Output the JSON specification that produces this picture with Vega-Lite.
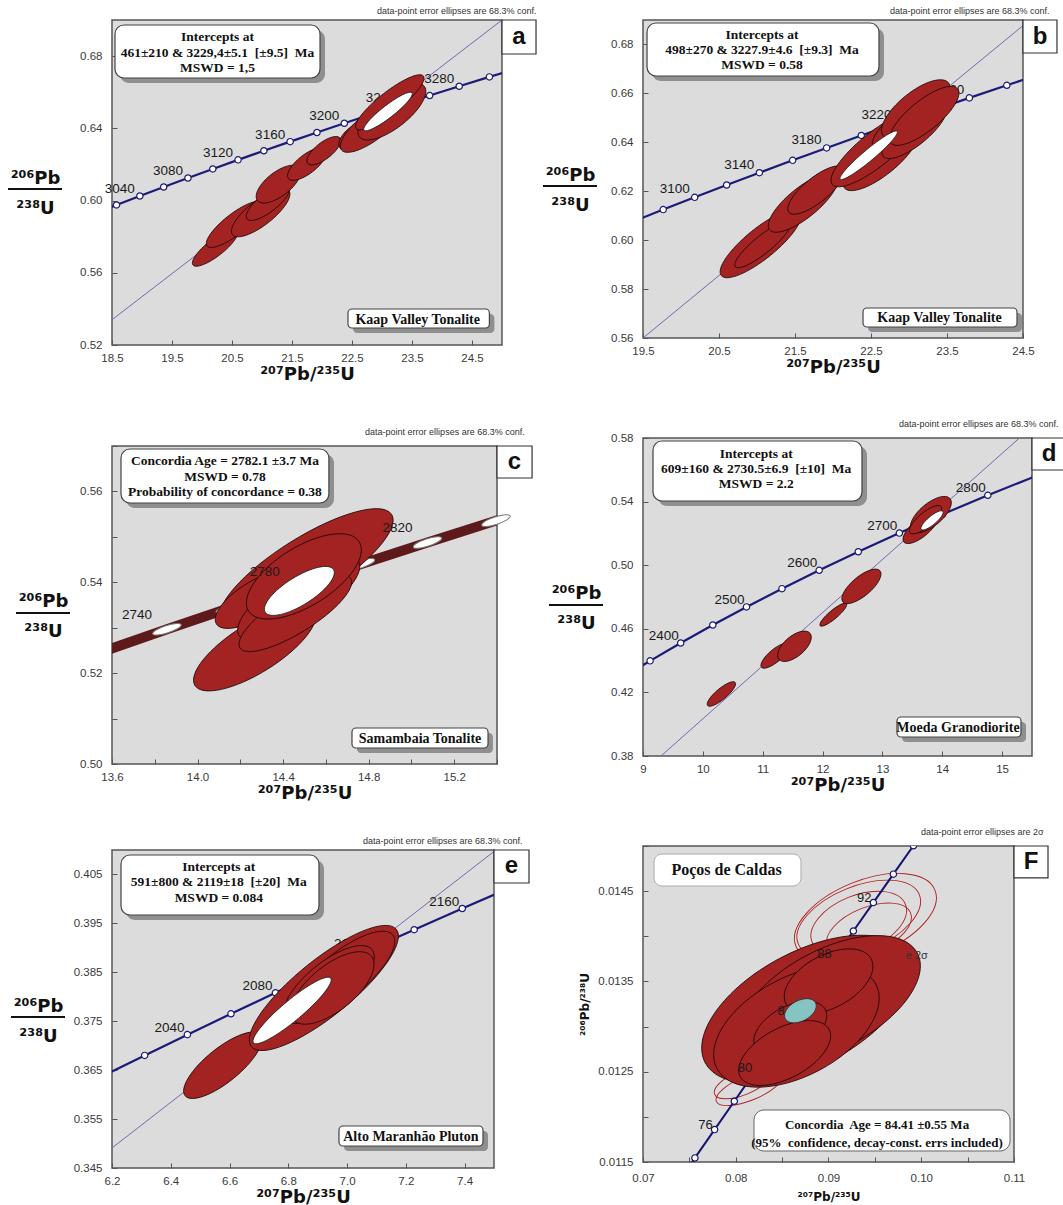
{
"$schema":"https://vega.github.io/schema/vega-lite/v6.json",
"background":"white",
"padding":{"left":6,"top":6,"right":0,"bottom":0},
"datasets":{
"concA":[{"age":3000,"x":18.193,"y":0.59261},{"age":3020,"x":18.575,"y":0.59756},{"age":3040,"x":18.964,"y":0.60252},{"age":3060,"x":19.361,"y":0.6075},{"age":3080,"x":19.766,"y":0.6125},{"age":3100,"x":20.18,"y":0.61751},{"age":3120,"x":20.601,"y":0.62254},{"age":3140,"x":21.031,"y":0.62758},{"age":3160,"x":21.469,"y":0.63263},{"age":3180,"x":21.916,"y":0.63771},{"age":3200,"x":22.372,"y":0.6428},{"age":3220,"x":22.836,"y":0.6479},{"age":3240,"x":23.311,"y":0.65302},{"age":3260,"x":23.794,"y":0.65816},{"age":3280,"x":24.287,"y":0.66331},{"age":3300,"x":24.79,"y":0.66848},{"age":3320,"x":25.303,"y":0.67366}],
"concC":[{"age":2720,"x":13.5675,"y":0.52492},{"age":2740,"x":13.857,"y":0.52966},{"age":2760,"x":14.153,"y":0.53441},{"age":2780,"x":14.454,"y":0.53918},{"age":2800,"x":14.762,"y":0.54396},{"age":2820,"x":15.075,"y":0.54876},{"age":2840,"x":15.395,"y":0.55357},{"age":2860,"x":15.721,"y":0.5584}],
"concD":[{"age":2300,"x":8.6326,"y":0.42873},{"age":2350,"x":9.1188,"y":0.43986},{"age":2400,"x":9.6296,"y":0.45107},{"age":2450,"x":10.1661,"y":0.46237},{"age":2500,"x":10.7297,"y":0.47376},{"age":2550,"x":11.3218,"y":0.48523},{"age":2600,"x":11.9437,"y":0.49679},{"age":2650,"x":12.5971,"y":0.50845},{"age":2700,"x":13.2834,"y":0.5202},{"age":2750,"x":14.0044,"y":0.53203},{"age":2800,"x":14.7616,"y":0.54396},{"age":2850,"x":15.5572,"y":0.55598}],
"concE":[{"age":1980,"x":6.0287,"y":0.35954},{"age":2000,"x":6.1685,"y":0.36377},{"age":2020,"x":6.3111,"y":0.36801},{"age":2040,"x":6.4566,"y":0.37226},{"age":2060,"x":6.6049,"y":0.37652},{"age":2080,"x":6.7562,"y":0.3808},{"age":2100,"x":6.9105,"y":0.38509},{"age":2120,"x":7.0678,"y":0.38939},{"age":2140,"x":7.2283,"y":0.39371},{"age":2160,"x":7.392,"y":0.39804},{"age":2180,"x":7.5589,"y":0.40238}],
"concF":[{"age":72,"x":0.0734826,"y":0.0112314},{"age":74,"x":0.0755991,"y":0.0115452},{"age":76,"x":0.0777196,"y":0.011859},{"age":78,"x":0.0798444,"y":0.012173},{"age":80,"x":0.0819733,"y":0.012487},{"age":82,"x":0.0841064,"y":0.0128012},{"age":84,"x":0.0862437,"y":0.0131154},{"age":86,"x":0.0883852,"y":0.0134298},{"age":88,"x":0.0905309,"y":0.0137442},{"age":90,"x":0.0926808,"y":0.0140588},{"age":92,"x":0.0948349,"y":0.0143733},{"age":94,"x":0.0969932,"y":0.0146881},{"age":96,"x":0.0991559,"y":0.0150029},{"age":98,"x":0.1013227,"y":0.0153179}]
},
"hconcat":[
{"vconcat":[
{"width":390,"height":325,
"title":{"text":"data-point error ellipses are 68.3% conf."},
"layer":[
{"data":{"values":[{"x":18.5,"y":0.534},{"x":25,"y":0.7}]},"mark":{"type":"line","color":"#7467b0","strokeWidth":1,"clip":true},
"encoding":{"x":{"field":"x","type":"quantitative","scale":{"domain":[18.5,25],"nice":false,"zero":false},"axis":{"values":[18.5,19,19.5,20,20.5,21,21.5,22,22.5,23,23.5,24,24.5,25],"format":".1f","labelExpr":"round(datum.value*2)%2==1 ? datum.label : ''","title":"²⁰⁷Pb/²³⁵U"}},
"y":{"field":"y","type":"quantitative","scale":{"domain":[0.52,0.7],"nice":false,"zero":false},"axis":{"values":[0.52,0.54,0.56,0.58,0.6,0.62,0.64,0.66,0.68,0.7],"format":".2f","labelExpr":"round(datum.value*50)%2==0 ? datum.label : ''","title":["²⁰⁶Pb","²³⁸U"],"titleAngle":0,"titleAlign":"center","titleBaseline":"alphabetic","titleX":-77,"titleY":163,"titleLineHeight":30}}}},
{"data":{"values":[{"bar":"fraction"}]},"mark":{"type":"rule","color":"#111","strokeWidth":2},"encoding":{"x":{"datum":16.767,"type":"quantitative"},"x2":{"datum":17.667},"y":{"datum":0.6064,"type":"quantitative"}}},
{"data":{"name":"concA"},"mark":{"type":"line","color":"#1b1b78","strokeWidth":2.2,"clip":true},"encoding":{"x":{"field":"x","type":"quantitative"},"y":{"field":"y","type":"quantitative"}}},
{"data":{"name":"concA"},"mark":{"type":"point","shape":"circle","filled":true,"fill":"white","stroke":"#1b1b78","strokeWidth":1.2,"size":40,"opacity":1,"clip":true},"encoding":{"x":{"field":"x","type":"quantitative"},"y":{"field":"y","type":"quantitative"}}},
{"data":{"name":"concA"},"transform":[{"filter":"datum.age%40==0 && datum.age>=3040 && datum.age<=3280"}],"mark":{"type":"text","dx":-20,"dy":-7,"fontSize":13.5,"font":"Liberation Sans","color":"#1a1a1a"},"encoding":{"x":{"field":"x","type":"quantitative"},"y":{"field":"y","type":"quantitative"},"text":{"field":"age","type":"quantitative","format":"d"}}},
{"data":{"values":[{"x":20.22,"y":0.5739,"sx":0.37,"r":0.3},{"x":20.545,"y":0.5868,"sx":0.46,"r":0.3},{"x":20.978,"y":0.5933,"sx":0.47,"r":0.35},{"x":21.1,"y":0.5989,"sx":0.35,"r":0.35},{"x":21.274,"y":0.6091,"sx":0.35,"r":0.45},{"x":21.75,"y":0.6202,"sx":0.31,"r":0.4},{"x":22.03,"y":0.6276,"sx":0.27,"r":0.4},{"x":22.56,"y":0.6359,"sx":0.26,"r":0.5},{"x":22.845,"y":0.6415,"sx":0.52,"r":0.35},{"x":23.165,"y":0.6493,"sx":0.54,"r":0.4},{"x":23.13,"y":0.6544,"sx":0.56,"r":0.25}]},
"mark":{"type":"point","filled":true,"fill":"#a32222","stroke":"#200808","strokeWidth":0.8,"opacity":1,"angle":-38},
"encoding":{"x":{"field":"x","type":"quantitative"},"y":{"field":"y","type":"quantitative"},"size":{"field":"sx","type":"quantitative","scale":{"type":"pow","exponent":2,"domain":[0,1],"range":[0,23190]},"legend":null},"shape":{"field":"r","type":"ordinal","scale":{"domain":[0.15,0.2,0.25,0.3,0.35,0.4,0.45,0.5,0.55,0.6]},"legend":null}}},
{"data":{"values":[{"x":23.1,"y":0.6493,"sx":0.4,"r":0.2}]},
"mark":{"type":"point","filled":true,"fill":"white","stroke":"#222","strokeWidth":0.8,"opacity":1,"angle":-38},
"encoding":{"x":{"field":"x","type":"quantitative"},"y":{"field":"y","type":"quantitative"},"size":{"field":"sx","type":"quantitative","scale":{"type":"pow","exponent":2,"domain":[0,1],"range":[0,23190]},"legend":null},"shape":{"field":"r","type":"ordinal","scale":{"domain":[0.15,0.2,0.25,0.3,0.35,0.4,0.45,0.5,0.55,0.6]},"legend":null}}},
{"data":{"values":[{"box":"stats"}]},"mark":{"type":"rect","fill":"#8f8f8f","cornerRadius":9},"encoding":{"x":{"datum":18.633,"type":"quantitative"},"x2":{"datum":22.05},"y":{"datum":0.69446,"type":"quantitative"},"y2":{"datum":0.66511}}},
{"data":{"values":[{"box":"stats"}]},"mark":{"type":"rect","fill":"white","stroke":"#444","strokeWidth":1.2,"cornerRadius":9},"encoding":{"x":{"datum":18.55,"type":"quantitative"},"x2":{"datum":21.967},"y":{"datum":0.69723,"type":"quantitative"},"y2":{"datum":0.66788}}},
{"data":{"values":[{"t":"Intercepts at\n461±210 & 3229,4±5.1\u00a0 [±9.5]\u00a0 Ma\nMSWD = 1,5"}]},"mark":{"type":"text","font":"Liberation Serif","fontWeight":"bold","fontSize":13.5,"lineHeight":15.3,"lineBreak":"\n","align":"center","baseline":"middle","color":"#111"},"encoding":{"x":{"datum":20.258,"type":"quantitative"},"y":{"datum":0.6904,"type":"quantitative"},"text":{"field":"t","type":"nominal"}}},
{"data":{"values":[{"box":"sample"}]},"mark":{"type":"rect","fill":"#8f8f8f","cornerRadius":4},"encoding":{"x":{"datum":22.517,"type":"quantitative"},"x2":{"datum":24.873},"y":{"datum":0.53717,"type":"quantitative"},"y2":{"datum":0.52665}}},
{"data":{"values":[{"box":"sample"}]},"mark":{"type":"rect","fill":"white","stroke":"#444","strokeWidth":1.2,"cornerRadius":4},"encoding":{"x":{"datum":22.433,"type":"quantitative"},"x2":{"datum":24.79},"y":{"datum":0.53994,"type":"quantitative"},"y2":{"datum":0.52942}}},
{"data":{"values":[{"t":"Kaap Valley Tonalite"}]},"mark":{"type":"text","font":"Liberation Serif","fontWeight":"bold","fontSize":14,"align":"center","baseline":"middle","color":"#111"},"encoding":{"x":{"datum":23.595,"type":"quantitative"},"y":{"datum":0.53402,"type":"quantitative"},"text":{"field":"t","type":"nominal"}}},
{"data":{"values":[{"p":"a"}]},"mark":{"type":"rect","fill":"white","stroke":"#333","strokeWidth":1.2},"encoding":{"x":{"datum":25,"type":"quantitative"},"x2":{"datum":25.567},"y":{"datum":0.7,"type":"quantitative"},"y2":{"datum":0.68117}}},
{"data":{"values":[{"p":"a"}]},"mark":{"type":"text","font":"Liberation Sans","fontWeight":"bold","fontSize":24,"align":"center","baseline":"middle","color":"#111"},"encoding":{"x":{"datum":25.283,"type":"quantitative"},"y":{"datum":0.6906,"type":"quantitative"},"text":{"field":"p","type":"nominal"}}}
]},
{"vconcat":[
{"width":385,"height":318,
"title":{"text":"data-point error ellipses are 68.3% conf.","dx":-8},
"layer":[
{"data":{"name":"concC"},"mark":{"type":"line","color":"#5e1a1a","strokeWidth":10,"strokeCap":"butt","clip":true},
"encoding":{"x":{"field":"x","type":"quantitative","scale":{"domain":[13.6,15.4],"nice":false,"zero":false},"axis":{"values":[13.6,13.8,14,14.2,14.4,14.6,14.8,15,15.2,15.4],"format":".1f","labelExpr":"round(datum.value*5)%2==0 ? datum.label : ''","title":"²⁰⁷Pb/²³⁵U"}},
"y":{"field":"y","type":"quantitative","scale":{"domain":[0.5,0.57],"nice":false,"zero":false},"axis":{"values":[0.5,0.51,0.52,0.53,0.54,0.55,0.56,0.57],"format":".2f","labelExpr":"round(datum.value*100)%2==0 ? datum.label : ''","title":["²⁰⁶Pb","²³⁸U"],"titleAngle":0,"titleAlign":"center","titleBaseline":"alphabetic","titleX":-69,"titleY":160,"titleLineHeight":30}}}},
{"data":{"values":[{"bar":"fraction"}]},"mark":{"type":"rule","color":"#111","strokeWidth":2},"encoding":{"x":{"datum":13.1512,"type":"quantitative"},"x2":{"datum":13.4036},"y":{"datum":0.53324,"type":"quantitative"}}},
{"data":{"name":"concC"},"transform":[{"filter":"datum.age>=2740 && datum.age<=2840"}],"mark":{"type":"point","shape":"M-1,0C-1,-0.1381,-0.5523,-0.25,0,-0.25C0.5523,-0.25,1,-0.1381,1,0C1,0.1381,0.5523,0.25,0,0.25C-0.5523,0.25,-1,0.1381,-1,0Z","filled":true,"fill":"white","stroke":"#777","strokeWidth":1,"size":900,"angle":-18,"opacity":1},"encoding":{"x":{"field":"x","type":"quantitative"},"y":{"field":"y","type":"quantitative"}}},
{"data":{"values":[{"x":14.509,"y":0.5432,"sx":0.394,"r":0.3},{"x":14.267,"y":0.5255,"sx":0.276,"r":0.35},{"x":14.267,"y":0.5361,"sx":0.177,"r":0.4},{"x":14.473,"y":0.5365,"sx":0.276,"r":0.35},{"x":14.457,"y":0.5332,"sx":0.256,"r":0.3},{"x":14.497,"y":0.5413,"sx":0.256,"r":0.45}]},
"mark":{"type":"point","filled":true,"fill":"#a32222","stroke":"#200808","strokeWidth":0.8,"opacity":1,"angle":-32},
"encoding":{"x":{"field":"x","type":"quantitative"},"y":{"field":"y","type":"quantitative"},"size":{"field":"sx","type":"quantitative","scale":{"type":"pow","exponent":2,"domain":[0,1],"range":[0,260200]},"legend":null},"shape":{"field":"r","type":"ordinal","scale":{"domain":[0.15,0.2,0.25,0.3,0.35,0.4,0.45,0.5,0.55,0.6]},"legend":null}}},
{"data":{"values":[{"x":14.476,"y":0.5381,"sx":0.158,"r":0.35}]},
"mark":{"type":"point","filled":true,"fill":"white","stroke":"#222","strokeWidth":0.8,"opacity":1,"angle":-32},
"encoding":{"x":{"field":"x","type":"quantitative"},"y":{"field":"y","type":"quantitative"},"size":{"field":"sx","type":"quantitative","scale":{"type":"pow","exponent":2,"domain":[0,1],"range":[0,260200]},"legend":null},"shape":{"field":"r","type":"ordinal","scale":{"domain":[0.15,0.2,0.25,0.3,0.35,0.4,0.45,0.5,0.55,0.6]},"legend":null}}},
{"data":{"name":"concC"},"transform":[{"filter":"datum.age%40==20 && datum.age>=2740 && datum.age<=2820"}],"mark":{"type":"text","dx":-30,"dy":-14,"fontSize":13.5,"font":"Liberation Sans","color":"#1a1a1a"},"encoding":{"x":{"field":"x","type":"quantitative"},"y":{"field":"y","type":"quantitative"},"text":{"field":"age","type":"quantitative","format":"d"}}},
{"data":{"values":[{"box":"stats"}]},"mark":{"type":"rect","fill":"#8f8f8f","cornerRadius":9},"encoding":{"x":{"datum":13.665,"type":"quantitative"},"x2":{"datum":14.638},"y":{"datum":0.56824,"type":"quantitative"},"y2":{"datum":0.55635}}},
{"data":{"values":[{"box":"stats"}]},"mark":{"type":"rect","fill":"white","stroke":"#444","strokeWidth":1.2,"cornerRadius":9},"encoding":{"x":{"datum":13.642,"type":"quantitative"},"x2":{"datum":14.614},"y":{"datum":0.56934,"type":"quantitative"},"y2":{"datum":0.55745}}},
{"data":{"values":[{"t":"Concordia Age = 2782.1 ±3.7 Ma\nMSWD = 0.78\nProbability of concordance = 0.38"}]},"mark":{"type":"text","font":"Liberation Serif","fontWeight":"bold","fontSize":13.5,"lineHeight":15.3,"lineBreak":"\n","align":"center","baseline":"middle","color":"#111"},"encoding":{"x":{"datum":14.128,"type":"quantitative"},"y":{"datum":0.56663,"type":"quantitative"},"text":{"field":"t","type":"nominal"}}},
{"data":{"values":[{"box":"sample"}]},"mark":{"type":"rect","fill":"#8f8f8f","cornerRadius":4},"encoding":{"x":{"datum":14.745,"type":"quantitative"},"x2":{"datum":15.381},"y":{"datum":0.50682,"type":"quantitative"},"y2":{"datum":0.50242}}},
{"data":{"values":[{"box":"sample"}]},"mark":{"type":"rect","fill":"white","stroke":"#444","strokeWidth":1.2,"cornerRadius":4},"encoding":{"x":{"datum":14.722,"type":"quantitative"},"x2":{"datum":15.358},"y":{"datum":0.50793,"type":"quantitative"},"y2":{"datum":0.50352}}},
{"data":{"values":[{"t":"Samambaia Tonalite"}]},"mark":{"type":"text","font":"Liberation Serif","fontWeight":"bold","fontSize":14,"align":"center","baseline":"middle","color":"#111"},"encoding":{"x":{"datum":15.04,"type":"quantitative"},"y":{"datum":0.5055,"type":"quantitative"},"text":{"field":"t","type":"nominal"}}},
{"data":{"values":[{"p":"c"}]},"mark":{"type":"rect","fill":"white","stroke":"#333","strokeWidth":1.2},"encoding":{"x":{"datum":15.4,"type":"quantitative"},"x2":{"datum":15.564},"y":{"datum":0.57,"type":"quantitative"},"y2":{"datum":0.56296}}},
{"data":{"values":[{"p":"c"}]},"mark":{"type":"text","font":"Liberation Sans","fontWeight":"bold","fontSize":24,"align":"center","baseline":"middle","color":"#111"},"encoding":{"x":{"datum":15.482,"type":"quantitative"},"y":{"datum":0.56648,"type":"quantitative"},"text":{"field":"p","type":"nominal"}}}
]},
{"width":382,"height":318,
"title":{"text":"data-point error ellipses are 68.3% conf.","dx":-7},
"layer":[
{"data":{"values":[{"x":6.2,"y":0.3491},{"x":7.5,"y":0.4097}]},"mark":{"type":"line","color":"#7467b0","strokeWidth":1,"clip":true},
"encoding":{"x":{"field":"x","type":"quantitative","scale":{"domain":[6.2,7.5],"nice":false,"zero":false},"axis":{"values":[6.2,6.3,6.4,6.5,6.6,6.7,6.8,6.9,7,7.1,7.2,7.3,7.4,7.5],"format":".1f","labelExpr":"round(datum.value*10)%2==0 ? datum.label : ''","title":"²⁰⁷Pb/²³⁵U"}},
"y":{"field":"y","type":"quantitative","scale":{"domain":[0.345,0.41],"nice":false,"zero":false},"axis":{"values":[0.345,0.35,0.355,0.36,0.365,0.37,0.375,0.38,0.385,0.39,0.395,0.4,0.405,0.41],"format":".3f","labelExpr":"round(datum.value*200)%2==1 ? datum.label : ''","title":["²⁰⁶Pb","²³⁸U"],"titleAngle":0,"titleAlign":"center","titleBaseline":"alphabetic","titleX":-74,"titleY":161,"titleLineHeight":30}}}},
{"data":{"values":[{"bar":"fraction"}]},"mark":{"type":"rule","color":"#111","strokeWidth":2},"encoding":{"x":{"datum":5.8563,"type":"quantitative"},"x2":{"datum":6.0401},"y":{"datum":0.37587,"type":"quantitative"}}},
{"data":{"name":"concE"},"mark":{"type":"line","color":"#1b1b78","strokeWidth":2.2,"clip":true},"encoding":{"x":{"field":"x","type":"quantitative"},"y":{"field":"y","type":"quantitative"}}},
{"data":{"name":"concE"},"mark":{"type":"point","shape":"circle","filled":true,"fill":"white","stroke":"#1b1b78","strokeWidth":1.2,"size":40,"opacity":1,"clip":true},"encoding":{"x":{"field":"x","type":"quantitative"},"y":{"field":"y","type":"quantitative"}}},
{"data":{"name":"concE"},"transform":[{"filter":"datum.age%40==0 && datum.age>=2040 && datum.age<=2160"}],"mark":{"type":"text","dx":-18,"dy":-7,"fontSize":13.5,"font":"Liberation Sans","color":"#1a1a1a"},"encoding":{"x":{"field":"x","type":"quantitative"},"y":{"field":"y","type":"quantitative"},"text":{"field":"age","type":"quantitative","format":"d"}}},
{"data":{"values":[{"x":6.577,"y":0.366,"sx":0.13,"r":0.35},{"x":6.921,"y":0.3818,"sx":0.25,"r":0.3},{"x":6.982,"y":0.3842,"sx":0.176,"r":0.35},{"x":6.938,"y":0.3825,"sx":0.149,"r":0.4},{"x":6.95,"y":0.3818,"sx":0.135,"r":0.45}]},
"mark":{"type":"point","filled":true,"fill":"#a32222","stroke":"#200808","strokeWidth":0.8,"opacity":1,"angle":-39},
"encoding":{"x":{"field":"x","type":"quantitative"},"y":{"field":"y","type":"quantitative"},"size":{"field":"sx","type":"quantitative","scale":{"type":"pow","exponent":2,"domain":[0,1],"range":[0,556230]},"legend":null},"shape":{"field":"r","type":"ordinal","scale":{"domain":[0.15,0.2,0.25,0.3,0.35,0.4,0.45,0.5,0.55,0.6]},"legend":null}}},
{"data":{"values":[{"x":6.813,"y":0.3772,"sx":0.135,"r":0.2}]},
"mark":{"type":"point","filled":true,"fill":"white","stroke":"#222","strokeWidth":0.8,"opacity":1,"angle":-40},
"encoding":{"x":{"field":"x","type":"quantitative"},"y":{"field":"y","type":"quantitative"},"size":{"field":"sx","type":"quantitative","scale":{"type":"pow","exponent":2,"domain":[0,1],"range":[0,556230]},"legend":null},"shape":{"field":"r","type":"ordinal","scale":{"domain":[0.15,0.2,0.25,0.3,0.35,0.4,0.45,0.5,0.55,0.6]},"legend":null}}},
{"data":{"values":[{"box":"stats"}]},"mark":{"type":"rect","fill":"#8f8f8f","cornerRadius":9},"encoding":{"x":{"datum":6.2476,"type":"quantitative"},"x2":{"datum":6.9215},"y":{"datum":0.40796,"type":"quantitative"},"y2":{"datum":0.39569}}},
{"data":{"values":[{"box":"stats"}]},"mark":{"type":"rect","fill":"white","stroke":"#444","strokeWidth":1.2,"cornerRadius":9},"encoding":{"x":{"datum":6.2306,"type":"quantitative"},"x2":{"datum":6.9044},"y":{"datum":0.40898,"type":"quantitative"},"y2":{"datum":0.39671}}},
{"data":{"values":[{"t":"Intercepts at\n591±800 & 2119±18\u00a0 [±20]\u00a0 Ma\nMSWD = 0.084"}]},"mark":{"type":"text","font":"Liberation Serif","fontWeight":"bold","fontSize":13.5,"lineHeight":15.5,"lineBreak":"\n","align":"center","baseline":"middle","color":"#111"},"encoding":{"x":{"datum":6.5634,"type":"quantitative"},"y":{"datum":0.40653,"type":"quantitative"},"text":{"field":"t","type":"nominal"}}},
{"data":{"values":[{"box":"sample"}]},"mark":{"type":"rect","fill":"#8f8f8f","cornerRadius":4},"encoding":{"x":{"datum":6.9895,"type":"quantitative"},"x2":{"datum":7.4796},"y":{"datum":0.35256,"type":"quantitative"},"y2":{"datum":0.34847}}},
{"data":{"values":[{"box":"sample"}]},"mark":{"type":"rect","fill":"white","stroke":"#444","strokeWidth":1.2,"cornerRadius":4},"encoding":{"x":{"datum":6.9725,"type":"quantitative"},"x2":{"datum":7.4625},"y":{"datum":0.35358,"type":"quantitative"},"y2":{"datum":0.3495}}},
{"data":{"values":[{"t":"Alto Maranhão Pluton"}]},"mark":{"type":"text","font":"Liberation Serif","fontWeight":"bold","fontSize":14,"align":"center","baseline":"middle","color":"#111"},"encoding":{"x":{"datum":7.2172,"type":"quantitative"},"y":{"datum":0.35134,"type":"quantitative"},"text":{"field":"t","type":"nominal"}}},
{"data":{"values":[{"p":"e"}]},"mark":{"type":"rect","fill":"white","stroke":"#333","strokeWidth":1.2},"encoding":{"x":{"datum":7.5,"type":"quantitative"},"x2":{"datum":7.6191},"y":{"datum":0.41,"type":"quantitative"},"y2":{"datum":0.40325}}},
{"data":{"values":[{"p":"e"}]},"mark":{"type":"text","font":"Liberation Sans","fontWeight":"bold","fontSize":24,"align":"center","baseline":"middle","color":"#111"},"encoding":{"x":{"datum":7.5595,"type":"quantitative"},"y":{"datum":0.40663,"type":"quantitative"},"text":{"field":"p","type":"nominal"}}}
]}
],"spacing":86,"bounds":"flush","resolve":{"scale":{"size":"independent","shape":"independent"}}}
],"spacing":101,"bounds":"flush","resolve":{"scale":{"size":"independent","shape":"independent"}}},
{"vconcat":[
{"width":380,"height":318,
"title":{"text":"data-point error ellipses are 68.3% conf.","dx":-8},
"layer":[
{"data":{"values":[{"x":19.5,"y":0.56},{"x":24.5,"y":0.6877}]},"mark":{"type":"line","color":"#7467b0","strokeWidth":1,"clip":true},
"encoding":{"x":{"field":"x","type":"quantitative","scale":{"domain":[19.5,24.5],"nice":false,"zero":false},"axis":{"values":[19.5,20,20.5,21,21.5,22,22.5,23,23.5,24,24.5],"format":".1f","labelExpr":"round(datum.value*2)%2==1 ? datum.label : ''","title":"²⁰⁷Pb/²³⁵U"}},
"y":{"field":"y","type":"quantitative","scale":{"domain":[0.56,0.69],"nice":false,"zero":false},"axis":{"values":[0.56,0.57,0.58,0.59,0.6,0.61,0.62,0.63,0.64,0.65,0.66,0.67,0.68,0.69],"format":".2f","labelExpr":"round(datum.value*100)%2==0 ? datum.label : ''","title":["²⁰⁶Pb","²³⁸U"],"titleAngle":0,"titleAlign":"center","titleBaseline":"alphabetic","titleX":-73,"titleY":160,"titleLineHeight":30}}}},
{"data":{"values":[{"bar":"fraction"}]},"mark":{"type":"rule","color":"#111","strokeWidth":2},"encoding":{"x":{"datum":18.184,"type":"quantitative"},"x2":{"datum":18.895},"y":{"datum":0.62214,"type":"quantitative"}}},
{"data":{"name":"concA"},"mark":{"type":"line","color":"#1b1b78","strokeWidth":2.2,"clip":true},"encoding":{"x":{"field":"x","type":"quantitative"},"y":{"field":"y","type":"quantitative"}}},
{"data":{"name":"concA"},"mark":{"type":"point","shape":"circle","filled":true,"fill":"white","stroke":"#1b1b78","strokeWidth":1.2,"size":40,"opacity":1,"clip":true},"encoding":{"x":{"field":"x","type":"quantitative"},"y":{"field":"y","type":"quantitative"}}},
{"data":{"name":"concA"},"transform":[{"filter":"datum.age%40==20 && datum.age>=3100 && datum.age<=3260"}],"mark":{"type":"text","dx":-20,"dy":-8,"fontSize":13.5,"font":"Liberation Sans","color":"#1a1a1a"},"encoding":{"x":{"field":"x","type":"quantitative"},"y":{"field":"y","type":"quantitative"},"text":{"field":"age","type":"quantitative","format":"d"}}},
{"data":{"values":[{"x":21.05,"y":0.5986,"sx":0.52,"r":0.3},{"x":21.075,"y":0.5982,"sx":0.36,"r":0.25},{"x":21.606,"y":0.6153,"sx":0.44,"r":0.35},{"x":21.78,"y":0.6205,"sx":0.36,"r":0.35},{"x":22.63,"y":0.6334,"sx":0.48,"r":0.35},{"x":22.56,"y":0.6371,"sx":0.57,"r":0.3},{"x":22.94,"y":0.6487,"sx":0.41,"r":0.3},{"x":23.07,"y":0.6446,"sx":0.41,"r":0.35},{"x":23.09,"y":0.6535,"sx":0.43,"r":0.4},{"x":23.2,"y":0.6508,"sx":0.44,"r":0.35}]},
"mark":{"type":"point","filled":true,"fill":"#a32222","stroke":"#200808","strokeWidth":0.8,"opacity":1,"angle":-39},
"encoding":{"x":{"field":"x","type":"quantitative"},"y":{"field":"y","type":"quantitative"},"size":{"field":"sx","type":"quantitative","scale":{"type":"pow","exponent":2,"domain":[0,1],"range":[0,38265]},"legend":null},"shape":{"field":"r","type":"ordinal","scale":{"domain":[0.15,0.2,0.25,0.3,0.35,0.4,0.45,0.5,0.55,0.6]},"legend":null}}},
{"data":{"values":[{"x":22.47,"y":0.6347,"sx":0.38,"r":0.15}]},
"mark":{"type":"point","filled":true,"fill":"white","stroke":"#222","strokeWidth":0.8,"opacity":1,"angle":-40},
"encoding":{"x":{"field":"x","type":"quantitative"},"y":{"field":"y","type":"quantitative"},"size":{"field":"sx","type":"quantitative","scale":{"type":"pow","exponent":2,"domain":[0,1],"range":[0,38265]},"legend":null},"shape":{"field":"r","type":"ordinal","scale":{"domain":[0.15,0.2,0.25,0.3,0.35,0.4,0.45,0.5,0.55,0.6]},"legend":null}}},
{"data":{"values":[{"box":"stats"}]},"mark":{"type":"rect","fill":"#8f8f8f","cornerRadius":9},"encoding":{"x":{"datum":19.618,"type":"quantitative"},"x2":{"datum":22.671},"y":{"datum":0.68673,"type":"quantitative"},"y2":{"datum":0.66506}}},
{"data":{"values":[{"box":"stats"}]},"mark":{"type":"rect","fill":"white","stroke":"#444","strokeWidth":1.2,"cornerRadius":9},"encoding":{"x":{"datum":19.553,"type":"quantitative"},"x2":{"datum":22.605},"y":{"datum":0.68877,"type":"quantitative"},"y2":{"datum":0.66711}}},
{"data":{"values":[{"t":"Intercepts at\n498±270 & 3227.9±4.6\u00a0 [±9.3]\u00a0 Ma\nMSWD = 0.58"}]},"mark":{"type":"text","font":"Liberation Serif","fontWeight":"bold","fontSize":13.5,"lineHeight":15,"lineBreak":"\n","align":"center","baseline":"middle","color":"#111"},"encoding":{"x":{"datum":21.066,"type":"quantitative"},"y":{"datum":0.68375,"type":"quantitative"},"text":{"field":"t","type":"nominal"}}},
{"data":{"values":[{"box":"sample"}]},"mark":{"type":"rect","fill":"#8f8f8f","cornerRadius":4},"encoding":{"x":{"datum":22.461,"type":"quantitative"},"x2":{"datum":24.487},"y":{"datum":0.57022,"type":"quantitative"},"y2":{"datum":0.56245}}},
{"data":{"values":[{"box":"sample"}]},"mark":{"type":"rect","fill":"white","stroke":"#444","strokeWidth":1.2,"cornerRadius":4},"encoding":{"x":{"datum":22.395,"type":"quantitative"},"x2":{"datum":24.421},"y":{"datum":0.57227,"type":"quantitative"},"y2":{"datum":0.5645}}},
{"data":{"values":[{"t":"Kaap Valley Tonalite"}]},"mark":{"type":"text","font":"Liberation Serif","fontWeight":"bold","fontSize":14,"align":"center","baseline":"middle","color":"#111"},"encoding":{"x":{"datum":23.401,"type":"quantitative"},"y":{"datum":0.56818,"type":"quantitative"},"text":{"field":"t","type":"nominal"}}},
{"data":{"values":[{"p":"b"}]},"mark":{"type":"rect","fill":"white","stroke":"#333","strokeWidth":1.2},"encoding":{"x":{"datum":24.5,"type":"quantitative"},"x2":{"datum":24.947},"y":{"datum":0.69,"type":"quantitative"},"y2":{"datum":0.67651}}},
{"data":{"values":[{"p":"b"}]},"mark":{"type":"text","font":"Liberation Sans","fontWeight":"bold","fontSize":24,"align":"center","baseline":"middle","color":"#111"},"encoding":{"x":{"datum":24.724,"type":"quantitative"},"y":{"datum":0.68325,"type":"quantitative"},"text":{"field":"p","type":"nominal"}}}
]},
{"vconcat":[
{"width":389,"height":318,
"title":{"text":"data-point error ellipses are 68.3% conf.","dx":-8},
"layer":[
{"data":{"values":[{"x":9.3,"y":0.38},{"x":15.29,"y":0.58}]},"mark":{"type":"line","color":"#7467b0","strokeWidth":1,"clip":true},
"encoding":{"x":{"field":"x","type":"quantitative","scale":{"domain":[9,15.5],"nice":false,"zero":false},"axis":{"values":[9,9.5,10,10.5,11,11.5,12,12.5,13,13.5,14,14.5,15,15.5],"labelExpr":"round(datum.value*2)%2==0 ? format(datum.value,'d') : ''","title":"²⁰⁷Pb/²³⁵U"}},
"y":{"field":"y","type":"quantitative","scale":{"domain":[0.38,0.58],"nice":false,"zero":false},"axis":{"values":[0.38,0.4,0.42,0.44,0.46,0.48,0.5,0.52,0.54,0.56,0.58],"format":".2f","labelExpr":"round(datum.value*50)%2==1 ? datum.label : ''","title":["²⁰⁶Pb","²³⁸U"],"titleAngle":0,"titleAlign":"center","titleBaseline":"alphabetic","titleX":-67,"titleY":160,"titleLineHeight":30}}}},
{"data":{"values":[{"bar":"fraction"}]},"mark":{"type":"rule","color":"#111","strokeWidth":2},"encoding":{"x":{"datum":7.4293,"type":"quantitative"},"x2":{"datum":8.3316},"y":{"datum":0.47497,"type":"quantitative"}}},
{"data":{"name":"concD"},"mark":{"type":"line","color":"#1b1b78","strokeWidth":2.2,"clip":true},"encoding":{"x":{"field":"x","type":"quantitative"},"y":{"field":"y","type":"quantitative"}}},
{"data":{"name":"concD"},"mark":{"type":"point","shape":"circle","filled":true,"fill":"white","stroke":"#1b1b78","strokeWidth":1.2,"size":40,"opacity":1,"clip":true},"encoding":{"x":{"field":"x","type":"quantitative"},"y":{"field":"y","type":"quantitative"}}},
{"data":{"name":"concD"},"transform":[{"filter":"datum.age%100==0 && datum.age>=2400 && datum.age<=2800"}],"mark":{"type":"text","dx":-17,"dy":-7,"fontSize":13.5,"font":"Liberation Sans","color":"#1a1a1a"},"encoding":{"x":{"field":"x","type":"quantitative"},"y":{"field":"y","type":"quantitative"},"text":{"field":"age","type":"quantitative","format":"d"}}},
{"data":{"values":[{"x":10.31,"y":0.419,"sx":0.23,"r":0.3},{"x":11.21,"y":0.4431,"sx":0.23,"r":0.35},{"x":11.53,"y":0.449,"sx":0.26,"r":0.5},{"x":12.18,"y":0.4689,"sx":0.22,"r":0.25},{"x":12.65,"y":0.4867,"sx":0.31,"r":0.4},{"x":13.64,"y":0.5234,"sx":0.28,"r":0.4},{"x":13.81,"y":0.5318,"sx":0.32,"r":0.45},{"x":13.72,"y":0.5286,"sx":0.26,"r":0.35}]},
"mark":{"type":"point","filled":true,"fill":"#a32222","stroke":"#200808","strokeWidth":0.8,"opacity":1,"angle":-40},
"encoding":{"x":{"field":"x","type":"quantitative"},"y":{"field":"y","type":"quantitative"},"size":{"field":"sx","type":"quantitative","scale":{"type":"pow","exponent":2,"domain":[0,1],"range":[0,24420]},"legend":null},"shape":{"field":"r","type":"ordinal","scale":{"domain":[0.15,0.2,0.25,0.3,0.35,0.4,0.45,0.5,0.55,0.6]},"legend":null}}},
{"data":{"values":[{"x":13.83,"y":0.5282,"sx":0.18,"r":0.3}]},
"mark":{"type":"point","filled":true,"fill":"white","stroke":"#222","strokeWidth":0.8,"opacity":1,"angle":-40},
"encoding":{"x":{"field":"x","type":"quantitative"},"y":{"field":"y","type":"quantitative"},"size":{"field":"sx","type":"quantitative","scale":{"type":"pow","exponent":2,"domain":[0,1],"range":[0,24420]},"legend":null},"shape":{"field":"r","type":"ordinal","scale":{"domain":[0.15,0.2,0.25,0.3,0.35,0.4,0.45,0.5,0.55,0.6]},"legend":null}}},
{"data":{"values":[{"box":"stats"}]},"mark":{"type":"rect","fill":"#8f8f8f","cornerRadius":9},"encoding":{"x":{"datum":9.251,"type":"quantitative"},"x2":{"datum":12.743},"y":{"datum":0.57497,"type":"quantitative"},"y2":{"datum":0.53723}}},
{"data":{"values":[{"box":"stats"}]},"mark":{"type":"rect","fill":"white","stroke":"#444","strokeWidth":1.2,"cornerRadius":9},"encoding":{"x":{"datum":9.167,"type":"quantitative"},"x2":{"datum":12.659},"y":{"datum":0.57811,"type":"quantitative"},"y2":{"datum":0.54038}}},
{"data":{"values":[{"t":"Intercepts at\n609±160 & 2730.5±6.9\u00a0 [±10]\u00a0 Ma\nMSWD = 2.2"}]},"mark":{"type":"text","font":"Liberation Serif","fontWeight":"bold","fontSize":13.5,"lineHeight":15.2,"lineBreak":"\n","align":"center","baseline":"middle","color":"#111"},"encoding":{"x":{"datum":10.892,"type":"quantitative"},"y":{"datum":0.57013,"type":"quantitative"},"text":{"field":"t","type":"nominal"}}},
{"data":{"values":[{"box":"sample"}]},"mark":{"type":"rect","fill":"#8f8f8f","cornerRadius":4},"encoding":{"x":{"datum":13.328,"type":"quantitative"},"x2":{"datum":15.4},"y":{"datum":0.40138,"type":"quantitative"},"y2":{"datum":0.38881}}},
{"data":{"values":[{"box":"sample"}]},"mark":{"type":"rect","fill":"white","stroke":"#444","strokeWidth":1.2,"cornerRadius":4},"encoding":{"x":{"datum":13.244,"type":"quantitative"},"x2":{"datum":15.316},"y":{"datum":0.40453,"type":"quantitative"},"y2":{"datum":0.39195}}},
{"data":{"values":[{"t":"Moeda Granodiorite"}]},"mark":{"type":"text","font":"Liberation Serif","fontWeight":"bold","fontSize":14,"align":"center","baseline":"middle","color":"#111"},"encoding":{"x":{"datum":14.263,"type":"quantitative"},"y":{"datum":0.39761,"type":"quantitative"},"text":{"field":"t","type":"nominal"}}},
{"data":{"values":[{"p":"d"}]},"mark":{"type":"rect","fill":"white","stroke":"#333","strokeWidth":1.2},"encoding":{"x":{"datum":15.5,"type":"quantitative"},"x2":{"datum":16.068},"y":{"datum":0.58,"type":"quantitative"},"y2":{"datum":0.55987}}},
{"data":{"values":[{"p":"d"}]},"mark":{"type":"text","font":"Liberation Sans","fontWeight":"bold","fontSize":24,"align":"center","baseline":"middle","color":"#111"},"encoding":{"x":{"datum":15.784,"type":"quantitative"},"y":{"datum":0.56994,"type":"quantitative"},"text":{"field":"p","type":"nominal"}}}
]},
{"width":371,"height":316,
"title":{"text":"data-point error ellipses are 2σ","dx":-5},
"layer":[
{"data":{"values":[{"x":0.09398,"y":0.014201,"sx":0.007,"r":0.5},{"x":0.09326,"y":0.01419,"sx":0.0061,"r":0.5},{"x":0.09326,"y":0.014146,"sx":0.0047,"r":0.55},{"x":0.09436,"y":0.014072,"sx":0.0042,"r":0.5},{"x":0.08144,"y":0.012319,"sx":0.0033,"r":0.35},{"x":0.08072,"y":0.012375,"sx":0.0028,"r":0.4}]},
"mark":{"type":"point","filled":false,"stroke":"#b02020","strokeWidth":0.9,"opacity":1,"angle":-22},
"encoding":{"x":{"field":"x","type":"quantitative","scale":{"domain":[0.07,0.11],"nice":false,"zero":false},"axis":{"values":[0.07,0.075,0.08,0.085,0.09,0.095,0.1,0.105,0.11],"format":".2f","labelExpr":"round(datum.value*200)%2==0 ? datum.label : ''","title":"²⁰⁷Pb/²³⁵U","titleFontSize":12,"labelPadding":15,"titlePadding":8}},
"y":{"field":"y","type":"quantitative","scale":{"domain":[0.0115,0.015],"nice":false,"zero":false},"axis":{"values":[0.0115,0.012,0.0125,0.013,0.0135,0.014,0.0145,0.015],"format":".4f","labelExpr":"round(datum.value*2000)%2==1 ? datum.label : ''","title":"²⁰⁶Pb/²³⁸U","titleFontSize":12,"titlePadding":6}},
"size":{"field":"sx","type":"quantitative","scale":{"type":"pow","exponent":2,"domain":[0,0.01],"range":[0,45880]},"legend":null},"shape":{"field":"r","type":"ordinal","scale":{"domain":[0.15,0.2,0.25,0.3,0.35,0.4,0.45,0.5,0.55,0.6]},"legend":null}}},
{"data":{"name":"concF"},"mark":{"type":"line","color":"#14146e","strokeWidth":2,"clip":true},"encoding":{"x":{"field":"x","type":"quantitative"},"y":{"field":"y","type":"quantitative"}}},
{"data":{"name":"concF"},"mark":{"type":"point","shape":"circle","filled":true,"fill":"white","stroke":"#14146e","strokeWidth":1.2,"size":40,"opacity":1,"clip":true},"encoding":{"x":{"field":"x","type":"quantitative"},"y":{"field":"y","type":"quantitative"}}},
{"data":{"values":[{"x":0.08762,"y":0.013194,"sx":0.0107,"r":0.5},{"x":0.09009,"y":0.013297,"sx":0.0093,"r":0.5},{"x":0.08654,"y":0.013002,"sx":0.0084,"r":0.55},{"x":0.09001,"y":0.0135,"sx":0.0045,"r":0.55},{"x":0.08588,"y":0.012983,"sx":0.0037,"r":0.55},{"x":0.08527,"y":0.012707,"sx":0.0047,"r":0.5}]},
"mark":{"type":"point","filled":true,"fill":"#a32222","stroke":"#200808","strokeWidth":0.8,"opacity":1,"angle":-28},
"encoding":{"x":{"field":"x","type":"quantitative"},"y":{"field":"y","type":"quantitative"},"size":{"field":"sx","type":"quantitative","scale":{"type":"pow","exponent":2,"domain":[0,0.01],"range":[0,45880]},"legend":null},"shape":{"field":"r","type":"ordinal","scale":{"domain":[0.15,0.2,0.25,0.3,0.35,0.4,0.45,0.5,0.55,0.6]},"legend":null}}},
{"data":{"name":"concF"},"transform":[{"filter":"datum.age%4==0 && datum.age>=76 && datum.age<=92"}],"mark":{"type":"text","dx":-9,"dy":-5,"fontSize":13,"font":"Liberation Sans","color":"#1a1a1a"},"encoding":{"x":{"field":"x","type":"quantitative"},"y":{"field":"y","type":"quantitative"},"text":{"field":"age","type":"quantitative","format":"d"}}},
{"data":{"values":[{"x":0.08697,"y":0.013175,"sx":0.0016,"r":0.6}]},
"mark":{"type":"point","filled":true,"fill":"#86c3c3","stroke":"#333","strokeWidth":0.8,"opacity":1,"angle":-28},
"encoding":{"x":{"field":"x","type":"quantitative"},"y":{"field":"y","type":"quantitative"},"size":{"field":"sx","type":"quantitative","scale":{"type":"pow","exponent":2,"domain":[0,0.01],"range":[0,45880]},"legend":null},"shape":{"field":"r","type":"ordinal","scale":{"domain":[0.15,0.2,0.25,0.3,0.35,0.4,0.45,0.5,0.55,0.6]},"legend":null}}},
{"data":{"values":[{"t":"e 2σ"}]},"mark":{"type":"text","font":"Liberation Sans","fontSize":11,"align":"left","baseline":"middle","color":"#333"},"encoding":{"x":{"datum":0.09833,"type":"quantitative"},"y":{"datum":0.013778,"type":"quantitative"},"text":{"field":"t","type":"nominal"}}},
{"data":{"values":[{"box":"name"}]},"mark":{"type":"rect","fill":"white","stroke":"#aaa","strokeWidth":1,"cornerRadius":8},"encoding":{"x":{"datum":0.071186,"type":"quantitative"},"x2":{"datum":0.087035},"y":{"datum":0.014911,"type":"quantitative"},"y2":{"datum":0.014557}}},
{"data":{"values":[{"t":"Poços de Caldas"}]},"mark":{"type":"text","font":"Liberation Serif","fontWeight":"bold","fontSize":16,"align":"center","baseline":"middle","color":"#111"},"encoding":{"x":{"datum":0.079003,"type":"quantitative"},"y":{"datum":0.014731,"type":"quantitative"},"text":{"field":"t","type":"nominal"}}},
{"data":{"values":[{"box":"stats"}]},"mark":{"type":"rect","fill":"white","stroke":"#666","strokeWidth":1,"cornerRadius":10},"encoding":{"x":{"datum":0.081968,"type":"quantitative"},"x2":{"datum":0.109569},"y":{"datum":0.012076,"type":"quantitative"},"y2":{"datum":0.011622}}},
{"data":{"values":[{"t":"Concordia\u00a0 Age = 84.41 ±0.55 Ma\n(95%\u00a0 confidence, decay-const. errs included)"}]},"mark":{"type":"text","font":"Liberation Serif","fontWeight":"bold","fontSize":13,"lineHeight":18.3,"lineBreak":"\n","align":"center","baseline":"middle","color":"#111"},"encoding":{"x":{"datum":0.09523,"type":"quantitative"},"y":{"datum":0.011913,"type":"quantitative"},"text":{"field":"t","type":"nominal"}}},
{"data":{"values":[{"p":"F"}]},"mark":{"type":"rect","fill":"white","stroke":"#333","strokeWidth":1.2},"encoding":{"x":{"datum":0.11,"type":"quantitative"},"x2":{"datum":0.113666},"y":{"datum":0.015,"type":"quantitative"},"y2":{"datum":0.014646}}},
{"data":{"values":[{"p":"F"}]},"mark":{"type":"text","font":"Liberation Sans","fontWeight":"bold","fontSize":24,"align":"center","baseline":"middle","color":"#111"},"encoding":{"x":{"datum":0.111833,"type":"quantitative"},"y":{"datum":0.014823,"type":"quantitative"},"text":{"field":"p","type":"nominal"}}}
]}
],"spacing":90,"bounds":"flush","resolve":{"scale":{"size":"independent","shape":"independent"}}}
],"spacing":100,"bounds":"flush","resolve":{"scale":{"size":"independent","shape":"independent"}}}
],
"spacing":3,
"bounds":"full",
"resolve":{"scale":{"size":"independent","shape":"independent"}},
"config":{
"view":{"fill":"#dcdcdc","stroke":"#555555","strokeWidth":1.5},
"range":{"symbol":[
"M-1,0C-1,-0.0828,-0.5523,-0.15,0,-0.15C0.5523,-0.15,1,-0.0828,1,0C1,0.0828,0.5523,0.15,0,0.15C-0.5523,0.15,-1,0.0828,-1,0Z",
"M-1,0C-1,-0.1105,-0.5523,-0.2,0,-0.2C0.5523,-0.2,1,-0.1105,1,0C1,0.1105,0.5523,0.2,0,0.2C-0.5523,0.2,-1,0.1105,-1,0Z",
"M-1,0C-1,-0.1381,-0.5523,-0.25,0,-0.25C0.5523,-0.25,1,-0.1381,1,0C1,0.1381,0.5523,0.25,0,0.25C-0.5523,0.25,-1,0.1381,-1,0Z",
"M-1,0C-1,-0.1657,-0.5523,-0.3,0,-0.3C0.5523,-0.3,1,-0.1657,1,0C1,0.1657,0.5523,0.3,0,0.3C-0.5523,0.3,-1,0.1657,-1,0Z",
"M-1,0C-1,-0.1933,-0.5523,-0.35,0,-0.35C0.5523,-0.35,1,-0.1933,1,0C1,0.1933,0.5523,0.35,0,0.35C-0.5523,0.35,-1,0.1933,-1,0Z",
"M-1,0C-1,-0.2209,-0.5523,-0.4,0,-0.4C0.5523,-0.4,1,-0.2209,1,0C1,0.2209,0.5523,0.4,0,0.4C-0.5523,0.4,-1,0.2209,-1,0Z",
"M-1,0C-1,-0.2485,-0.5523,-0.45,0,-0.45C0.5523,-0.45,1,-0.2485,1,0C1,0.2485,0.5523,0.45,0,0.45C-0.5523,0.45,-1,0.2485,-1,0Z",
"M-1,0C-1,-0.2762,-0.5523,-0.5,0,-0.5C0.5523,-0.5,1,-0.2762,1,0C1,0.2762,0.5523,0.5,0,0.5C-0.5523,0.5,-1,0.2762,-1,0Z",
"M-1,0C-1,-0.3038,-0.5523,-0.55,0,-0.55C0.5523,-0.55,1,-0.3038,1,0C1,0.3038,0.5523,0.55,0,0.55C-0.5523,0.55,-1,0.3038,-1,0Z",
"M-1,0C-1,-0.3314,-0.5523,-0.6,0,-0.6C0.5523,-0.6,1,-0.3314,1,0C1,0.3314,0.5523,0.6,0,0.6C-0.5523,0.6,-1,0.3314,-1,0Z"]},
"axis":{"grid":false,"domain":false,"tickColor":"#555","tickWidth":1,"tickSize":-5,"labelFont":"Liberation Sans","labelFontSize":11.5,"labelColor":"#3a3a3a","labelFlush":false,"labelOverlap":false,"titleFont":"DejaVu Sans","titleFontWeight":"bold","titleColor":"#111","titleFontSize":18},
"axisX":{"labelPadding":12,"titlePadding":2},
"axisY":{"labelPadding":15},
"title":{"anchor":"end","fontSize":9,"font":"Liberation Sans","fontWeight":"normal","color":"#333","offset":3}
}
}
